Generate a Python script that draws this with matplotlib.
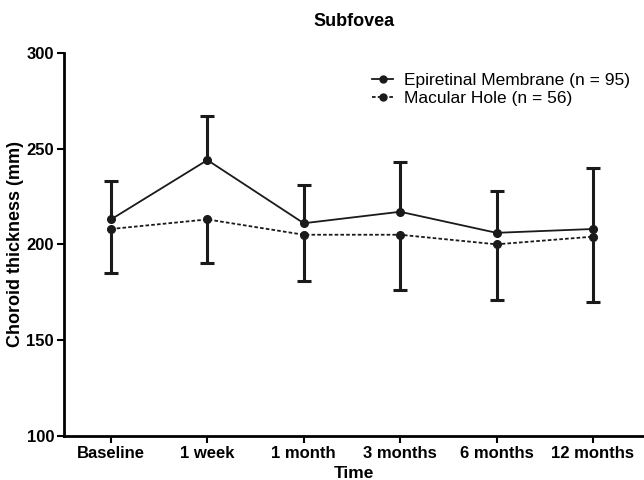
import matplotlib.pyplot as plt
from matplotlib.lines import Line2D
import numpy as np

plt.rcParams['font.family'] = ['Liberation Sans', 'DejaVu Sans']

times = ["Baseline", "1 week", "1 month", "3 months", "6 months", "12 months"]
erm_mean = [213, 244, 211, 217, 206, 208]
erm_upper = [233, 267, 231, 243, 228, 240]
mh_mean = [208, 213, 205, 205, 200, 204]
mh_lower = [185, 190, 181, 176, 171, 170]

x = np.arange(len(times))
erm_err = np.array(erm_upper) - np.array(erm_mean)
mh_err = np.array(mh_mean) - np.array(mh_lower)
col = '#1a1a1a'

fig = plt.figure(figsize=(6.44, 4.8), dpi=100)
ax = fig.add_axes([0.099, 0.092, 0.901, 0.798])

# error bars: one-sided, upper for ERM, lower for MH
eb1 = ax.errorbar(x, erm_mean, yerr=[np.zeros_like(erm_err), erm_err], fmt='none',
                  ecolor=col, elinewidth=2.2, capsize=5, capthick=2.2)
eb1[1][0].set_visible(False)
eb2 = ax.errorbar(x, mh_mean, yerr=[mh_err, np.zeros_like(mh_err)], fmt='none',
                  ecolor=col, elinewidth=2.2, capsize=5, capthick=2.2)
eb2[1][1].set_visible(False)

ax.plot(x, erm_mean, color=col, lw=1.3, marker='o', ms=5.5)
ax.plot(x, mh_mean, color=col, lw=1.3, ls=(0, (2, 1.2)), marker='o', ms=5.5)

ax.set_xlim(-0.49, 5.53)
ax.set_ylim(100, 300)
ax.set_yticks([100, 150, 200, 250, 300])
ax.set_xticks(x)
ax.set_xticklabels(times)
for lbl in ax.get_xticklabels() + ax.get_yticklabels():
    lbl.set_fontweight('bold')
    lbl.set_fontsize(12)

ax.spines['top'].set_visible(False)
ax.spines['right'].set_visible(False)
ax.spines['left'].set_linewidth(2)
ax.spines['bottom'].set_linewidth(2)
ax.tick_params(width=1.5, length=5, direction='out', pad=2)

ax.set_title('Subfovea', fontsize=13, fontweight='bold', pad=19)
ax.set_xlabel('Time', fontsize=12.5, fontweight='bold', labelpad=4)
ax.set_ylabel('Choroid thickness (mm)', fontsize=13, fontweight='bold', labelpad=2)

handles = [Line2D([], [], color=col, lw=1.3, marker='o', ms=5),
           Line2D([], [], color=col, lw=1.3, ls=(0, (2, 1.2)), marker='o', ms=5)]
labels = ['Epiretinal Membrane (n = 95)', 'Macular Hole (n = 56)']
ax.legend(handles, labels, loc='upper left', bbox_to_anchor=(0.52, 0.965),
          frameon=False, fontsize=12.5, handlelength=1.2, handletextpad=0.6,
          labelspacing=0.15, borderaxespad=0)

fig.savefig('out.png', dpi=100)
